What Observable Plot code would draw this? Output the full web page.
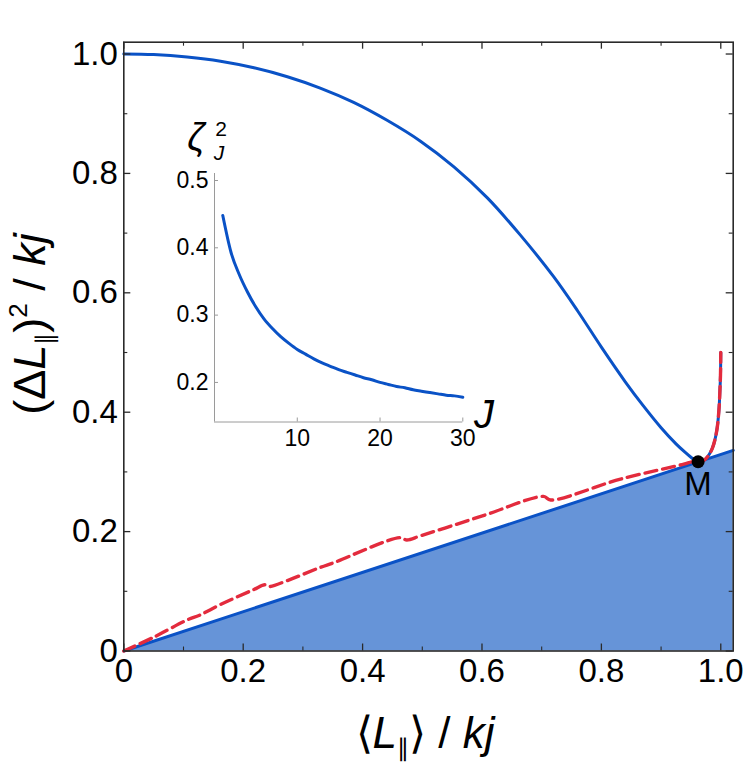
<!DOCTYPE html>
<html><head><meta charset="utf-8">
<script src="https://cdn.jsdelivr.net/npm/d3@7"></script>
<script src="https://cdn.jsdelivr.net/npm/@observablehq/plot@0.6"></script>
<style>
body{margin:0;background:#fff;}
#wrap{position:relative;width:747px;height:764px;overflow:hidden;}
#wrap svg{position:absolute;left:0;top:0;}
</style></head><body><div id="wrap"></div>
<script>
// ---- data ----
const upperX = [0, 0.05, 0.106, 0.162, 0.218, 0.274, 0.329, 0.385, 0.441, 0.497, 0.553, 0.609, 0.664, 0.720, 0.760, 0.800, 0.840, 0.870, 0.900, 0.925, 0.940, 0.950, 0.957, 0.963, 0.969, 0.975, 0.981, 0.986, 0.990, 0.994, 0.997, 0.9985, 0.9995, 1.0];
const upperY = [1.000, 0.999, 0.995, 0.988, 0.977, 0.962, 0.943, 0.919, 0.889, 0.854, 0.811, 0.759, 0.697, 0.627, 0.570, 0.509, 0.451, 0.411, 0.374, 0.347, 0.333, 0.3245, 0.3195, 0.3172, 0.3178, 0.322, 0.330, 0.340, 0.353, 0.374, 0.405, 0.435, 0.462, 0.500];
const redX = [0, 0.050, 0.106, 0.127, 0.162, 0.218, 0.236, 0.243, 0.274, 0.329, 0.352, 0.463, 0.474, 0.497, 0.575, 0.609, 0.703, 0.715, 0.832, 0.938, 0.952, 0.963, 0.969, 0.975, 0.981, 0.986, 0.990, 0.994, 0.997, 0.9985, 0.9995, 1.0];
const redY = [0, 0.023, 0.052, 0.060, 0.078, 0.103, 0.111, 0.108, 0.118, 0.140, 0.148, 0.190, 0.186, 0.193, 0.218, 0.229, 0.259, 0.253, 0.288, 0.313, 0.317, 0.3172, 0.3178, 0.322, 0.330, 0.340, 0.353, 0.374, 0.405, 0.435, 0.462, 0.500];
const boundX = [0, 1.0208];
const boundY = [0, 0.336];
const pointM = {x: 0.962, y: 0.317, label: "M"};
const xTicks = [0, 0.2, 0.4, 0.6, 0.8, 1.0];
const xMinor = [0.1, 0.3, 0.5, 0.7, 0.9];
const yTicks = [0, 0.2, 0.4, 0.6, 0.8, 1.0];
const yMinor = [0.1, 0.3, 0.5, 0.7, 0.9];
// inset
const insetJ = [1,2,3,4,5,6,7,8,9,10,11,12,13,14,15,16,17,18,19,20,21,22,23,24,25,26,27,28,29,30];
const insetV = [0.448,0.393,0.360,0.334,0.312,0.294,0.280,0.268,0.258,0.249,0.242,0.235,0.229,0.224,0.219,0.215,0.211,0.207,0.204,0.200,0.197,0.194,0.192,0.189,0.187,0.185,0.183,0.181,0.180,0.178];
const insetXTicks = [10, 20, 30];
const insetYTicks = [0.2, 0.3, 0.4, 0.5];

// ---- build tables ----
const upper = upperX.map((x, i) => ({x, y: upperY[i]}));
const red = redX.map((x, i) => ({x, y: redY[i]}));
const bound = boundX.map((x, i) => ({x, y: boundY[i]}));
const zeta = insetJ.map((J, i) => ({J, v: insetV[i]}));

const BLUE = "#0a52c6", FILL = "#6694d8", RED = "#e32b3d", FRAME = "#2a2a2a";
const FONT = "'Liberation Sans', Arial, Helvetica, sans-serif";
const W = 747, H = 764;
const mL = 123.3, mR = W - 732.7, mT = 41.7, mB = H - 650.5;
const fw = W - mL - mR, fh = H - mT - mB;
const fmt = d => d === 0 ? "0" : d.toFixed(1);

const main = Plot.plot({
  width: W, height: H,
  marginLeft: mL, marginRight: mR, marginTop: mT, marginBottom: mB,
  style: {fontFamily: FONT, background: "white", color: "black", overflow: "visible"},
  x: {domain: [0, 1.0208], axis: null},
  y: {domain: [0, 1.0198], axis: null},
  marks: [
    Plot.areaY(bound, {x: "x", y: "y", fill: FILL}),
    Plot.line(bound, {x: "x", y: "y", stroke: BLUE, strokeWidth: 3}),
    Plot.line(upper, {x: "x", y: "y", stroke: BLUE, strokeWidth: 3, curve: "catmull-rom"}),
    Plot.line(red, {x: "x", y: "y", stroke: RED, strokeWidth: 3.4, strokeDasharray: "12,6", curve: "catmull-rom"}),
    Plot.dot([pointM], {x: "x", y: "y", r: 6.5, fill: "black"}),
    Plot.text([pointM], {x: "x", y: "y", text: "label", lineAnchor: "top", dy: 10, fontSize: 33, fill: "black"}),
    Plot.frame({stroke: FRAME, strokeWidth: 1.6}),
    Plot.tickX(xTicks, {x: d => d, insetTop: fh - 7, stroke: FRAME, strokeWidth: 1.3}),
    Plot.tickX(xMinor, {x: d => d, insetTop: fh - 4, stroke: FRAME, strokeWidth: 1.1}),
    Plot.tickX(xTicks, {x: d => d, insetBottom: fh - 7, stroke: FRAME, strokeWidth: 1.3}),
    Plot.tickX(xMinor, {x: d => d, insetBottom: fh - 4, stroke: FRAME, strokeWidth: 1.1}),
    Plot.tickY(yTicks, {y: d => d, insetRight: fw - 7, stroke: FRAME, strokeWidth: 1.3}),
    Plot.tickY(yMinor, {y: d => d, insetRight: fw - 4, stroke: FRAME, strokeWidth: 1.1}),
    Plot.tickY(yTicks, {y: d => d, insetLeft: fw - 7, stroke: FRAME, strokeWidth: 1.3}),
    Plot.tickY(yMinor, {y: d => d, insetLeft: fw - 4, stroke: FRAME, strokeWidth: 1.1}),
    Plot.axisX(xTicks, {tickSize: 0, tickPadding: 8, tickFormat: fmt, fontSize: 33, label: null}),
    Plot.axisY(yTicks, {tickSize: 0, tickPadding: 6, tickFormat: fmt, fontSize: 33, label: null})
  ]
});

// inset plot: same page coordinates, transparent
const iL = 214, iR = 462.3, iT = 173, iB = 421.5;
const iw = iR - iL, ih = iB - iT;
const GRAY = "#9a9a9a";
const inset = Plot.plot({
  width: W, height: H,
  marginLeft: iL, marginRight: W - iR, marginTop: iT, marginBottom: H - iB,
  style: {fontFamily: FONT, background: "transparent", color: "black", overflow: "visible"},
  x: {domain: [0, 30], axis: null},
  y: {domain: [0.1412, 0.5104], axis: null},
  marks: [
    Plot.ruleY([0.1412], {stroke: GRAY, strokeWidth: 1}),
    Plot.ruleX([0], {stroke: GRAY, strokeWidth: 1}),
    Plot.tickX(insetXTicks, {x: d => d, insetTop: ih - 4, stroke: GRAY, strokeWidth: 1}),
    Plot.tickY(insetYTicks, {y: d => d, insetRight: iw - 4, stroke: GRAY, strokeWidth: 1}),
    Plot.line(zeta, {x: "J", y: "v", stroke: BLUE, strokeWidth: 3, curve: "monotone-x"}),
    Plot.axisX(insetXTicks, {tickSize: 0, tickPadding: 8, fontSize: 23, label: null}),
    Plot.axisY(insetYTicks, {tickSize: 0, tickPadding: 6, fontSize: 23, tickFormat: d => d.toFixed(1), label: null})
  ]
});

const wrap = document.getElementById("wrap");
wrap.appendChild(main);
wrap.appendChild(inset);

// rich-text titles
const svg = d3.select(main);
function rich(sel, parts) {
  parts.forEach(p => {
    const t = sel.append("tspan").text(p.t);
    if (p.i) t.attr("font-style", "italic");
    if (p.s) t.attr("font-size", p.s);
    if (p.dy) t.attr("dy", p.dy);
    if (p.dx) t.attr("dx", p.dx);
  });
}
const yt = svg.append("text")
  .attr("transform", "translate(45,324) rotate(-90)")
  .attr("text-anchor", "middle").attr("font-size", 45).attr("font-family", FONT).attr("fill", "black");
rich(yt, [{t: "(Δ"}, {t: "L", i: 1}, {t: "∥", s: 24, dy: 8}, {t: ")", dy: -8}, {t: "2", s: 26, dy: -18}, {t: " / ", dy: 18}, {t: "k", i: 1}, {t: "j", i: 1}]);

const xt = svg.append("text")
  .attr("x", 425).attr("y", 748)
  .attr("text-anchor", "middle").attr("font-size", 44).attr("font-family", FONT).attr("fill", "black");
rich(xt, [{t: "⟨"}, {t: "L", i: 1}, {t: "∥", s: 24, dy: 8}, {t: "⟩", dy: -8}, {t: " / "}, {t: "k", i: 1}, {t: "j", i: 1}]);

const isvg = d3.select(inset);
isvg.append("text").attr("x", 196).attr("y", 150).attr("font-family", FONT).attr("font-style", "italic").attr("font-size", 38).attr("fill", "black").text("ζ");
isvg.append("text").attr("x", 219).attr("y", 160).attr("font-family", FONT).attr("font-style", "italic").attr("font-size", 21).attr("fill", "black").text("J");
isvg.append("text").attr("x", 221).attr("y", 136).attr("font-family", FONT).attr("font-size", 21).attr("fill", "black").text("2");
isvg.append("text").attr("x", 484).attr("y", 428).attr("font-family", FONT).attr("font-style", "italic").attr("font-size", 40).attr("fill", "black").text("J");
</script>
</body></html>
